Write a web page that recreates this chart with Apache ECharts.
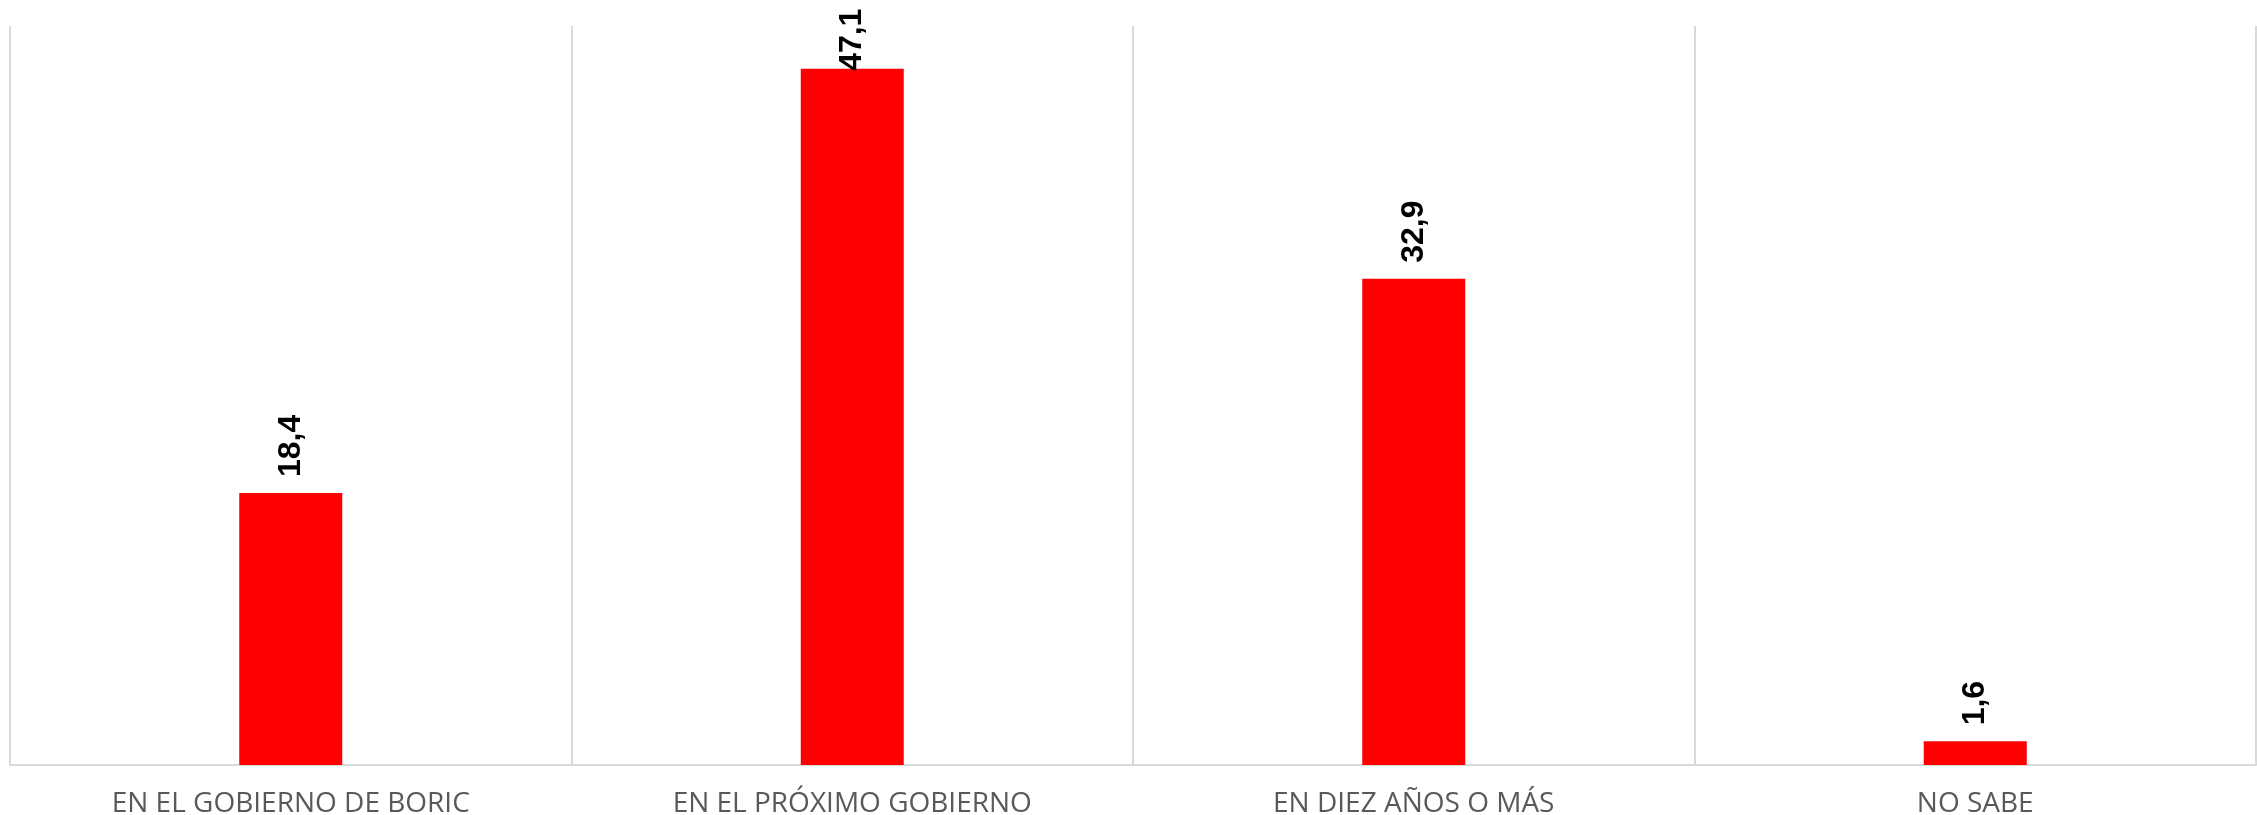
<!DOCTYPE html>
<html>
<head>
<meta charset="utf-8">
<script src="https://cdn.jsdelivr.net/npm/echarts@6/dist/echarts.min.js"></script>
<style>
html,body{margin:0;padding:0;background:#fff;}
#chart{width:2257px;height:815px;}
</style>
</head>
<body>
<div id="chart"></div>
<script>
const categories = ['EN EL GOBIERNO DE BORIC', 'EN EL PRÓXIMO GOBIERNO', 'EN DIEZ AÑOS O MÁS', 'NO SABE'];
const values = [18.4, 47.1, 32.9, 1.6];
const axisMax = 50;

const chart = echarts.init(document.getElementById('chart'), null, {renderer: 'canvas'});

const seriesData = values.map(function (v) {
  const item = {value: v};
  if (v > 44) {
    item.label = {distance: -2};
  }
  return item;
});

chart.setOption({
  animation: false,
  backgroundColor: '#ffffff',
  grid: {left: 10, right: 1, top: 26, bottom: 50, containLabel: false, outerBoundsMode: 'none'},
  xAxis: {
    type: 'category',
    data: categories,
    boundaryGap: true,
    axisLine: {show: true, lineStyle: {color: '#d9d9d9', width: 2}},
    axisTick: {show: false},
    splitLine: {show: true, interval: 0, lineStyle: {color: '#d9d9d9', width: 2}},
    axisLabel: {
      interval: 0,
      color: '#595959',
      fontFamily: '"Open Sans", sans-serif',
      fontSize: 28,
      margin: 25
    }
  },
  yAxis: {
    type: 'value',
    min: 0,
    max: axisMax,
    show: false,
    splitLine: {show: false}
  },
  series: [{
    type: 'bar',
    data: seriesData,
    barWidth: 103,
    itemStyle: {color: '#ff0000'},
    label: {
      show: true,
      position: 'top',
      rotate: 90,
      align: 'left',
      verticalAlign: 'middle',
      distance: 16,
      color: '#000000',
      fontFamily: '"Liberation Sans", Arial, sans-serif',
      fontWeight: 'bold',
      fontSize: 32,
      formatter: function (p) { return p.value.toFixed(1).replace('.', ','); }
    }
  }]
});
</script>
</body>
</html>
